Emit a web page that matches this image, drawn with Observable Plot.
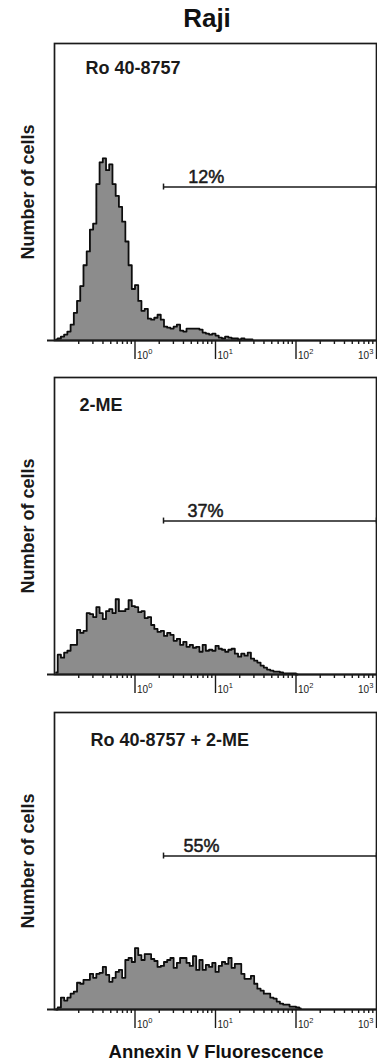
<!DOCTYPE html>
<html>
<head>
<meta charset="utf-8">
<script src="https://cdn.jsdelivr.net/npm/d3@7"></script>
<script src="https://cdn.jsdelivr.net/npm/@observablehq/plot@0.6"></script>
<style>
  html, body { margin: 0; padding: 0; background: #fff; }
  body { width: 377px; height: 1060px; position: relative; overflow: hidden;
         font-family: "Liberation Sans", Arial, sans-serif; color: #111; }
  #title { position: absolute; left: 0; width: 414px; top: 5px; text-align: center;
           font-weight: bold; font-size: 26px; line-height: 26px; }
  .panel { position: absolute; left: 0; width: 377px; }
  #xlabel { position: absolute; left: 0; width: 432px; top: 1042px; text-align: center;
            font-weight: bold; font-size: 18.5px; line-height: 19px; }
</style>
</head>
<body>
<div id="title">Raji</div>
<div class="panel" id="p1" style="top:38px"></div>
<div class="panel" id="p2" style="top:372px"></div>
<div class="panel" id="p3" style="top:707px"></div>
<div id="xlabel">Annexin V Fluorescence</div>
<script>
// ---- data ----
const panelNames = ["Ro 40-8757", "2-ME", "Ro 40-8757 + 2-ME"];
const gatePercents = ["12%", "37%", "55%"];
const yLabel = "Number of cells";

// histogram channels: log10 fluorescence of first channel centre and channel width
const channelStartLog = -0.98;
const channelStepLog = 0.04;

// cell counts per channel
const countsRo = [1,2,4,6,9,16,28,40,55,76,90,112,118,158,180,184,172,178,158,146,
  135,120,100,76,52,56,40,30,32,22,21,23,26,21,14,13,12,14,16,10,
  9,12,12,12,12,11,8,7,6,7,5,3,2,4,3,2,2,1,2,1,1,1];
const counts2ME = [2,20,17,22,24,30,30,45,42,44,62,61,58,68,62,56,64,66,62,76,
  64,64,66,75,69,68,63,64,57,58,50,46,43,44,39,42,40,34,36,30,
  33,28,30,27,28,23,30,24,25,24,29,26,25,23,25,26,21,18,21,19,
  22,16,14,12,9,7,5,4,3,3,2,1,1,1,1,0];
const countsCombo = [0,2,12,9,12,16,18,27,26,30,30,36,32,36,37,43,35,28,32,38,
  40,32,50,52,48,62,55,50,56,56,51,49,43,44,48,50,52,42,47,52,
  52,47,44,54,40,50,40,45,43,47,38,44,48,46,52,42,46,46,36,31,
  31,34,26,21,19,16,16,12,11,8,6,5,5,3,3,2,1];

// gate (marker) from/to in fluorescence units, and its level in counts
const gateFrom = 2.26;
const gateTo = 1000;
const gateLevel = 155;
const gateLabelAt = [4.6, 4.5, 4.0];

// axis ticks
const majorTicks = [1, 10, 100, 1000];
const tickBase = "10";
const tickExponents = ["0", "1", "2", "3"];
const decadeStarts = [0.1, 1, 10, 100];
const minorMultipliers = [2, 3, 4, 5, 6, 7, 8, 9];

// ---- layout / styles ----
const labelOffsets = [[31, 30], [25, 33], [36, 33]];
const ink = "#1a1a1a";
const font = "'Liberation Sans', Arial, sans-serif";

const minorTicks = decadeStarts.flatMap(d => minorMultipliers.map(m => +(d * m).toPrecision(3)));
const allCounts = [countsRo, counts2ME, countsCombo];

function makePanel(k) {
  const counts = allCounts[k];
  const data = counts.map((c, i) => ({
    x: Math.pow(10, channelStartLog + channelStepLog * i),
    y: c
  }));
  const tickRows = majorTicks.map((t, i) => ({t, base: tickBase, exp: tickExponents[i]}));
  const leftTicks = tickRows.slice(0, 3);
  const lastTick = tickRows.slice(3);
  const tickText = {frameAnchor: "bottom", lineAnchor: "bottom", fill: ink};
  return Plot.plot({
    width: 377,
    height: 332,
    marginLeft: 54,
    marginRight: 1,
    marginTop: 5,
    marginBottom: 30,
    style: {fontFamily: font, color: ink, background: "transparent", overflow: "visible"},
    x: {type: "log", domain: [0.1, 1000], label: null},
    y: {domain: [0, 300], axis: null},
    marks: [
      Plot.areaY(data, {x: "x", y: "y", curve: "step", fill: "#8c8c8c"}),
      Plot.lineY(data, {x: "x", y: "y", curve: "step", stroke: "#0d0d0d", strokeWidth: 1.8}),
      Plot.frame({stroke: ink, strokeWidth: 1.7}),
      Plot.ruleY([0], {insetLeft: -7, stroke: ink, strokeWidth: 2}),
      Plot.axisX(minorTicks, {tickSize: 4, tickFormat: () => "", stroke: ink, strokeWidth: 1.4, label: null}),
      Plot.axisX(majorTicks, {tickSize: 19, tickFormat: () => "", stroke: ink, strokeWidth: 1.4, label: null}),
      // tick labels 10^n as base + raised exponent
      Plot.text(leftTicks, {...tickText, x: "t", text: "base", textAnchor: "start", dx: 2, dy: 18, fontSize: 10}),
      Plot.text(leftTicks, {...tickText, x: "t", text: "exp", textAnchor: "start", dx: 13.3, dy: 13.5, fontSize: 7.5}),
      Plot.text(lastTick, {...tickText, x: "t", text: "base", textAnchor: "end", dx: -7.5, dy: 18, fontSize: 10}),
      Plot.text(lastTick, {...tickText, x: "t", text: "exp", textAnchor: "end", dx: -3, dy: 13.5, fontSize: 7.5}),
      Plot.ruleY([gateLevel], {x1: gateFrom, x2: gateTo, stroke: ink, strokeWidth: 1.5}),
      Plot.ruleX([gateFrom, gateTo], {y1: gateLevel - 3, y2: gateLevel + 3, stroke: ink, strokeWidth: 1.5}),
      Plot.text([gatePercents[k]], {x: gateLabelAt[k], y: gateLevel, dy: -4, lineAnchor: "bottom",
        textAnchor: "start", fontSize: 18, fill: ink, stroke: ink, strokeWidth: 0.5}),
      Plot.text([panelNames[k]], {frameAnchor: "top-left", dx: labelOffsets[k][0], dy: labelOffsets[k][1],
        lineAnchor: "bottom", textAnchor: "start", fontSize: 18, fontWeight: "bold", fill: ink}),
      Plot.text([yLabel], {frameAnchor: "left", rotate: -90, dx: -26, textAnchor: "middle",
        fontSize: 18, fontWeight: "bold", fill: ink})
    ]
  });
}

["p1", "p2", "p3"].forEach((id, k) => {
  document.getElementById(id).appendChild(makePanel(k));
});
</script>
</body>
</html>
